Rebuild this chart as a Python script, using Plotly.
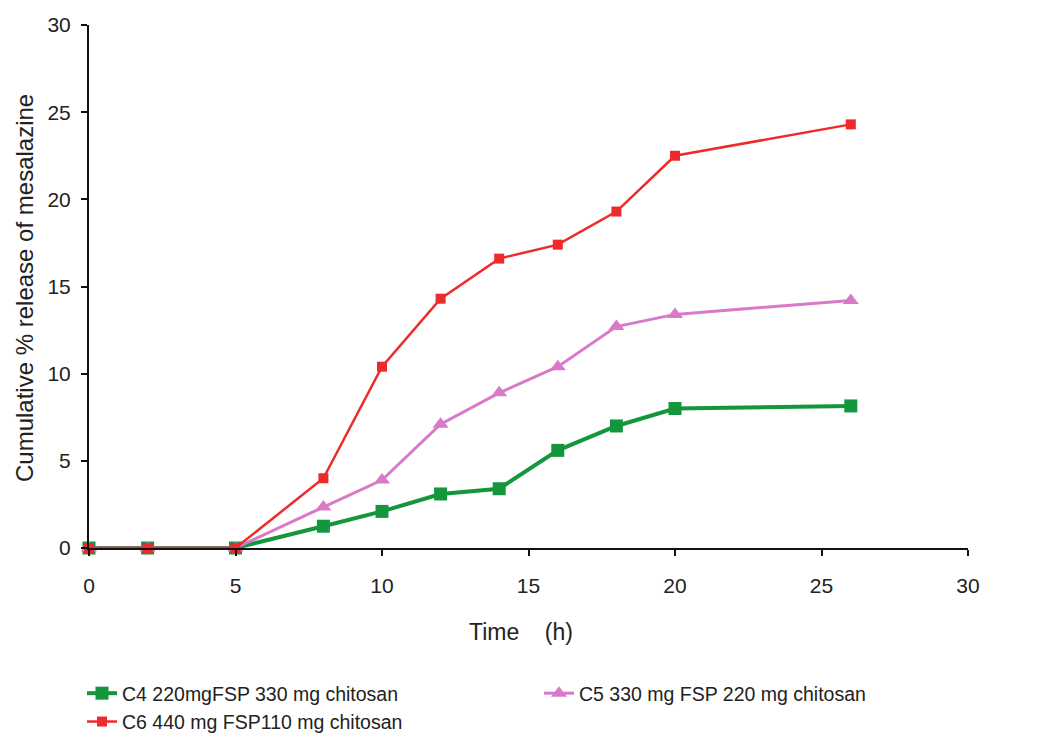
import plotly.graph_objects as go

time_h = [0, 2, 5, 8, 10, 12, 14, 16, 18, 20, 26]
c4 = [0, 0, 0, 1.25, 2.1, 3.1, 3.4, 5.6, 7.0, 8.0, 8.15]
c5 = [0, 0, 0, 2.35, 3.9, 7.1, 8.9, 10.4, 12.7, 13.4, 14.2]
c6 = [0, 0, 0, 4.0, 10.4, 14.3, 16.6, 17.4, 19.3, 22.5, 24.3]
ticks = [0, 5, 10, 15, 20, 25, 30]

names = ["C4 220mgFSP 330 mg chitosan",
         "C5 330 mg FSP 220 mg chitosan",
         "C6 440 mg FSP110 mg chitosan"]

fig = go.Figure()
fig.add_trace(go.Scatter(x=time_h, y=c4, name=names[0], mode="lines+markers",
                         line=dict(color="#14963c", width=4),
                         marker=dict(symbol="square", size=13, color="#14963c"),
                         cliponaxis=False))
fig.add_trace(go.Scatter(x=time_h, y=c5, name=names[1], mode="lines+markers",
                         line=dict(color="#d97ac8", width=3),
                         marker=dict(symbol="triangle-up", size=14, color="#d97ac8"),
                         cliponaxis=False))
fig.add_trace(go.Scatter(x=time_h, y=c6, name=names[2], mode="lines+markers",
                         line=dict(color="#ee2a2a", width=2.5),
                         marker=dict(symbol="square", size=10, color="#ee2a2a"),
                         cliponaxis=False))

FAM = "Liberation Sans, Arial, sans-serif"
W, H = 1042, 734          # page body has an 8px margin
l, r, t, b = 81, 82, 17, 194
pw, ph = W - l - r, H - t - b

def px_x(x):  # figure px -> paper
    return (x - l) / pw

def px_y(y):
    return (H - b - y) / ph

fig.update_layout(
    width=W, height=H,
    paper_bgcolor="white", plot_bgcolor="white",
    margin=dict(l=l, r=r, t=t, b=b, autoexpand=False),
    font=dict(family=FAM, size=21, color="#222"),
    xaxis=dict(range=[0, 30], tickvals=ticks,
               showgrid=False, zeroline=False, showline=True, linecolor="#111",
               linewidth=2, ticks="outside", tickcolor="#111", ticklen=6,
               tickwidth=2, automargin=False, ticklabelstandoff=12),
    yaxis=dict(range=[0, 30], tickvals=ticks,
               showgrid=False, zeroline=False, showline=True, linecolor="#111",
               linewidth=2, ticks="outside", tickcolor="#111", ticklen=6,
               tickwidth=2, automargin=False, ticklabelstandoff=6),
    annotations=[
        dict(text="Time\u00a0\u00a0\u00a0\u00a0(h)", x=px_x(513), y=px_y(624),
             xref="paper", yref="paper", xanchor="center", yanchor="middle",
             showarrow=False, font=dict(family=FAM, size=23, color="#222")),
        dict(text="Cumulative % release of mesalazine", textangle=-90,
             x=px_x(16), y=px_y(280), xref="paper", yref="paper",
             xanchor="center", yanchor="middle",
             showarrow=False, font=dict(family=FAM, size=24, color="#222")),
    ],
    legend=dict(orientation="h", x=px_x(74), y=px_y(666),
                xanchor="left", yanchor="top", entrywidth=412,
                entrywidthmode="pixels",
                font=dict(family=FAM, size=19.5, color="#222"), itemwidth=30,
                tracegroupgap=0, bgcolor="rgba(0,0,0,0)"),
    showlegend=True,
)

fig.write_html("out.html")
